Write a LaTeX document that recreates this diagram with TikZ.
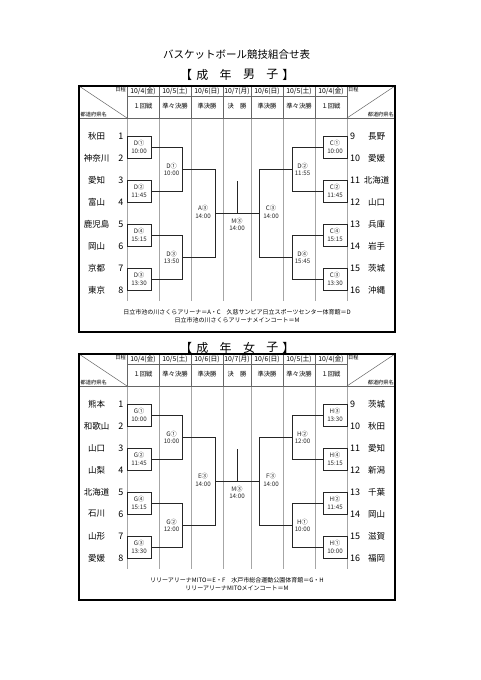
\documentclass[tikz,border=0pt]{standalone}
\usepackage{fontspec}
\setmainfont{Noto Sans CJK JP}
\tikzset{
 frame/.style={line width=1.1pt, black},
 hgrid/.style={line width=0.5pt, black!60},
 vgrid/.style={line width=0.5pt, black!35},
 br/.style={line width=0.75pt, black!85},
 lbl/.style={font=\fontsize{6.2}{7.8}\selectfont, align=center, inner sep=0pt, text=black!85},
 team/.style={font=\fontsize{8.5}{9}\selectfont, inner sep=0pt},
 num/.style={font=\fontsize{9}{9}\selectfont, inner sep=0pt},
 datet/.style={font=\fontsize{6.8}{7}\selectfont, inner sep=0pt},
 rnd/.style={font=\fontsize{6.3}{7}\selectfont, inner sep=0pt},
 tinyt/.style={font=\fontsize{5.2}{6}\selectfont, inner sep=0pt},
 foot/.style={font=\fontsize{6}{7}\selectfont, inner sep=0pt},
 ttl/.style={font=\fontsize{10.5}{11}\selectfont, inner sep=0pt},
 sttl/.style={font=\fontsize{12}{12}\selectfont, inner sep=0pt},
}
\newcommand\DrawGrid[1]{%
 \draw[vgrid] foreach \x in {127,159,191,223,251,283,315,347} {(\x,118) -- (\x,301)};
 \draw[hgrid] foreach \x in {127,159,191,223,251,283,315,347} {(\x,86) -- (\x,118)};
 \draw[hgrid] (127,96) -- (347,96);
 \draw[hgrid] (79,118) -- (395,118);
 \draw[hgrid] (79,86) -- (127,118);
 \draw[hgrid] (347,118) -- (395,86);
 \draw[frame] (79,86) rectangle (395,332);
 \node[datet] (#1d1) at (143,91) {10/4(金)};
 \node[datet] (#1d2) at (175,91) {10/5(土)};
 \node[datet] (#1d3) at (207,91) {10/6(日)};
 \node[datet] (#1d4) at (237,91) {10/7(月)};
 \node[datet] (#1d5) at (267,91) {10/6(日)};
 \node[datet] (#1d6) at (299,91) {10/5(土)};
 \node[datet] (#1d7) at (331,91) {10/4(金)};
 \node[rnd] (#1r1) at (143,106.5) {１回戦};
 \node[rnd] (#1r2) at (175,106.5) {準々決勝};
 \node[rnd] (#1r3) at (207,106.5) {準決勝};
 \node[rnd] (#1r4) at (237,106.5) {決　勝};
 \node[rnd] (#1r5) at (267,106.5) {準決勝};
 \node[rnd] (#1r6) at (299,106.5) {準々決勝};
 \node[rnd] (#1r7) at (331,106.5) {１回戦};
 \node[tinyt,anchor=east] (#1nl) at (126,89.5) {日程};
 \node[tinyt,anchor=west] (#1nr) at (348,89.5) {日程};
 \node[tinyt,anchor=west] (#1pl) at (80.5,115) {都道府県名};
 \node[tinyt,anchor=east] (#1pr) at (394,115) {都道府県名};
}
\newcommand\DrawBracket{%
 \foreach \a in {136,180,224,268} {
   \draw[br] (127,\a) rectangle (151,\a+22);
   \draw[br] (323,\a) rectangle (347,\a+22);
 }
 \draw[br] (151,147) -| (182,191) -- (151,191);
 \draw[br] (151,235) -| (182,279) -- (151,279);
 \draw[br] (182,169) -| (215,257) -- (182,257);
 \draw[br] (323,147) -| (292,191) -- (323,191);
 \draw[br] (323,235) -| (292,279) -- (323,279);
 \draw[br] (292,169) -| (259,257) -- (292,257);
 \draw[br] (215,213) -- (259,213);
 \draw[br] (237,181) -- (237,213);
}
\newcommand\LeftLabels[8]{%
 \node[lbl] (#1a) at (139,147) {#2};
 \node[lbl] (#1b) at (139,191) {#3};
 \node[lbl] (#1c) at (139,235) {#4};
 \node[lbl] (#1d) at (139,279) {#5};
 \node[lbl] (#1e) at (171.5,169.5) {#6};
 \node[lbl] (#1f) at (171.5,257.5) {#7};
 \node[lbl] (#1g) at (203,212) {#8};
}
\newcommand\RightLabels[8]{%
 \node[lbl] (#1a) at (335,147) {#2};
 \node[lbl] (#1b) at (335,191) {#3};
 \node[lbl] (#1c) at (335,235) {#4};
 \node[lbl] (#1d) at (335,279) {#5};
 \node[lbl] (#1e) at (302.5,169.5) {#6};
 \node[lbl] (#1f) at (302.5,257.5) {#7};
 \node[lbl] (#1g) at (271,212) {#8};
}
\newcommand\Teams[3]{%
 \foreach \t [count=\i] in {#2} {
   \node[team] (#1L\i) at (96.5,{136+22*(\i-1)}) {\t};
   \node[num,anchor=east] (#1Ln\i) at (123.5,{136+22*(\i-1)}) {\i};
 }
 \foreach \t [count=\i] in {#3} {
   \node[team] (#1R\i) at (376.5,{136+22*(\i-1)}) {\t};
   \node[num,anchor=west] (#1Rn\i) at (350,{136+22*(\i-1)}) {\the\numexpr\i+8\relax};
 }
}
\begin{document}
\begin{tikzpicture}[x=1pt,y=-1pt]
\useasboundingbox[fill=white] (0,0) rectangle (481,680);
\node[ttl] (title) at (236.5,55) {バスケットボール競技組合せ表};
% men title
\node[sttl] (mt1) at (186,74.5) {【};
\node[sttl] (mt2) at (202.3,74.5) {成};
\node[sttl] (mt3) at (225.7,74.5) {年};
\node[sttl] (mt4) at (249,74.5) {男};
\node[sttl] (mt5) at (272.3,74.5) {子};
\node[sttl] (mt6) at (288.3,74.5) {】};
% women title
\node[sttl] (wt1) at (186,347.5) {【};
\node[sttl] (wt2) at (202.3,347.5) {成};
\node[sttl] (wt3) at (225.7,347.5) {年};
\node[sttl] (wt4) at (249,347.5) {女};
\node[sttl] (wt5) at (272.3,347.5) {子};
\node[sttl] (wt6) at (288.3,347.5) {】};
% men
\begin{scope}
 \DrawGrid{m}
 \DrawBracket
 \Teams{m}{秋田,神奈川,愛知,富山,鹿児島,岡山,京都,東京}{長野,愛媛,北海道,山口,兵庫,岩手,茨城,沖縄}
 \LeftLabels{ml}{D①\\10:00}{D②\\11:45}{D④\\15:15}{D③\\13:30}{D①\\10:00}{D③\\13:50}{A③\\14:00}
 \RightLabels{mr}{C①\\10:00}{C②\\11:45}{C④\\15:15}{C③\\13:30}{D②\\11:55}{D④\\15:45}{C③\\14:00}
 \node[lbl] (mM) at (237,224.5) {M③\\14:00};
 \node[foot] (mf1) at (237,312.5) {日立市池の川さくらアリーナ＝A・C　久慈サンピア日立スポーツセンター体育館＝D};
 \node[foot] (mf2) at (237,320.5) {日立市池の川さくらアリーナメインコート＝M};
\end{scope}
% women
\begin{scope}[yshift=-268pt]
 \DrawGrid{w}
 \DrawBracket
 \Teams{w}{熊本,和歌山,山口,山梨,北海道,石川,山形,愛媛}{茨城,秋田,愛知,新潟,千葉,岡山,滋賀,福岡}
 \LeftLabels{wl}{G①\\10:00}{G②\\11:45}{G④\\15:15}{G③\\13:30}{G①\\10:00}{G②\\12:00}{E③\\14:00}
 \RightLabels{wr}{H③\\13:30}{H④\\15:15}{H②\\11:45}{H①\\10:00}{H②\\12:00}{H①\\10:00}{F③\\14:00}
 \node[lbl] (wM) at (237,224.5) {M③\\14:00};
 \node[foot] (wf1) at (237,312.5) {リリーアリーナMITO＝E・F　水戸市総合運動公園体育館＝G・H};
 \node[foot] (wf2) at (237,320.5) {リリーアリーナMITOメインコート＝M};
\end{scope}
\end{tikzpicture}
\end{document}
